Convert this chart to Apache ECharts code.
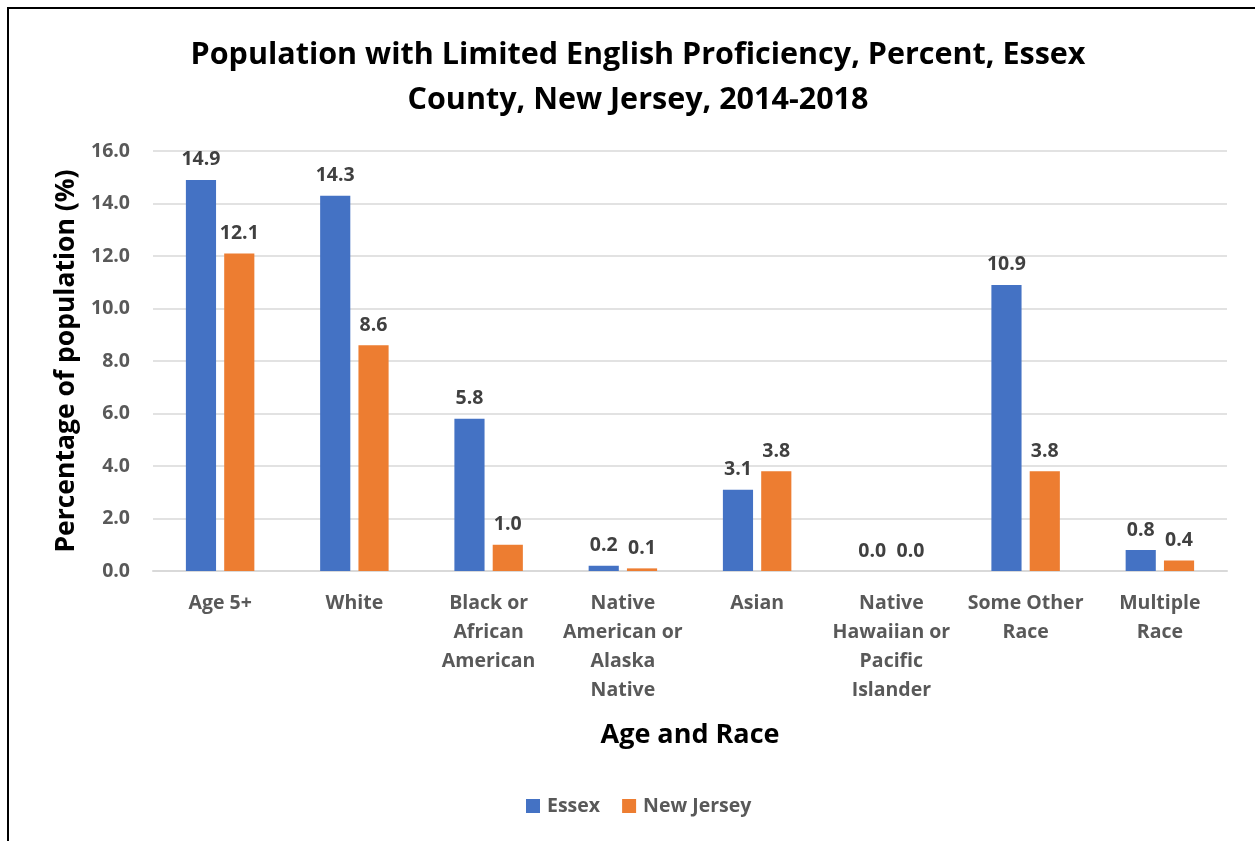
<!DOCTYPE html>
<html><head><meta charset="utf-8">
<script src="https://cdn.jsdelivr.net/npm/echarts@6/dist/echarts.min.js"></script>
<style>html,body{margin:0;padding:0;background:#fff}#c{width:1255px;height:841px}</style>
</head><body><div id="c"></div>
<script>
var categories = ["Age 5+", "White", "Black or\nAfrican\nAmerican", "Native\nAmerican or\nAlaska\nNative", "Asian", "Native\nHawaiian or\nPacific\nIslander", "Some Other\nRace", "Multiple\nRace"];
var essex = [14.9, 14.3, 5.8, 0.2, 3.1, 0.0, 10.9, 0.8];
var newJersey = [12.1, 8.6, 1.0, 0.1, 3.8, 0.0, 3.8, 0.4];
var seriesNames = ["Essex", "New Jersey"];
var FONT = "Open Sans";
var chart = echarts.init(document.getElementById('c'), null, {renderer: 'canvas'});
var lbl = {show: true, position: 'top', distance: 10, color: '#404040', fontFamily: FONT, fontWeight: 'bold', fontSize: 19.5, formatter: function(p){return p.value.toFixed(1);}};
chart.setOption({
  animation: false,
  backgroundColor: '#fff',
  title: {text: 'Population with Limited English Proficiency, Percent, Essex\nCounty, New Jersey, 2014-2018', left: 633, top: 28, textAlign: 'center',
    textStyle: {fontFamily: FONT, fontWeight: 'bold', fontSize: 30.5, color: '#000', lineHeight: 45}},
  legend: {bottom: 20, left: 521, itemWidth: 14, itemHeight: 14, itemGap: 22, itemStyle: {borderWidth: 0}, icon: 'rect',
    textStyle: {fontFamily: FONT, fontWeight: 'bold', fontSize: 19.5, color: '#595959', padding: [0, 0, 0, 2]}, data: seriesNames},
  grid: {left: 153, right: 28, top: 151, bottom: 270},
  xAxis: {type: 'category', data: categories, name: 'Age and Race', nameLocation: 'middle', nameGap: 151,
    nameTextStyle: {fontFamily: FONT, fontWeight: 'bold', fontSize: 27, color: '#000'},
    axisLine: {lineStyle: {color: '#d9d9d9', width: 2}}, axisTick: {show: false},
    axisLabel: {interval: 0, margin: 18, fontFamily: FONT, fontWeight: 'bold', fontSize: 19.5, color: '#595959', lineHeight: 29}},
  yAxis: {type: 'value', min: 0, max: 16, interval: 2, name: 'Percentage of population (%)', nameLocation: 'middle', nameGap: 73,
    nameTextStyle: {fontFamily: FONT, fontWeight: 'bold', fontSize: 26.5, color: '#000'},
    axisLine: {show: false}, axisTick: {show: false},
    splitLine: {lineStyle: {color: '#d9d9d9', width: 1.5}},
    axisLabel: {margin: 23, fontFamily: FONT, fontWeight: 'bold', fontSize: 19.5, color: '#595959', formatter: function(v){return v.toFixed(1);}}},
  series: [
    {name: seriesNames[0], type: 'bar', data: essex, itemStyle: {color: '#4472C4'}, barGap: '27%', barCategoryGap: '49%', label: lbl},
    {name: seriesNames[1], type: 'bar', data: newJersey, itemStyle: {color: '#ED7D31'}, label: lbl}
  ],
  graphic: [{type: 'polyline', shape: {points: [[8, 845], [8, 8], [1260, 8]]}, style: {stroke: '#000', lineWidth: 2, fill: null}, silent: true}]
});
</script></body></html>
